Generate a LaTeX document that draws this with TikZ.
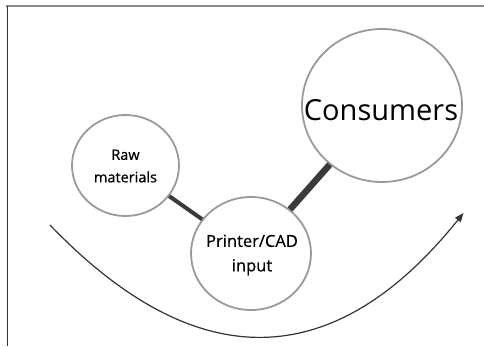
\documentclass[tikz,border=0pt]{standalone}
\usepackage{fontspec}
\setmainfont{Open Sans}
\newfontfamily\heavysans[FakeBold=0.6]{Open Sans}
\usetikzlibrary{shapes.geometric,arrows.meta}
\definecolor{ringgray}{HTML}{9A9A9A}
\definecolor{linkgray}{HTML}{3A3A3A}
\begin{document}
\begin{tikzpicture}[x=1pt,y=-1pt,
  bubble/.style={ellipse,draw=ringgray,line width=1.8pt,inner sep=0pt},
  caption/.style={align=center,text=black,inner sep=0pt},
  link/.style={draw=linkgray,line cap=butt},
  cycle/.style={draw=black!80,line width=1.2pt,-{Triangle[length=9pt,width=7pt]}}]
\useasboundingbox (0,0) rectangle (484,346);
\fill[white] (0,0) rectangle (484,346);
\draw[black!45,line width=1.4pt] (6,6) -- (484,6);
\draw[black!80,line width=1.4pt] (7.3,6) -- (7.3,346);
\node[bubble,minimum width=107pt,minimum height=101pt] (raw) at (125.5,165.5) {};
\node[bubble,minimum width=120pt,minimum height=113pt] (cad) at (251,253.5) {};
\node[bubble,minimum width=160pt,minimum height=153pt] (con) at (382,105.5) {};
\node[caption,font=\heavysans\fontsize{14.5}{22.5}\selectfont] (rawt) at (125.5,166) {Raw\\materials};
\node[caption,font=\heavysans\fontsize{16.5}{24.5}\selectfont] (cadt) at (252,255) {Printer/CAD\\input};
\node[caption,font=\fontsize{29}{34}\selectfont] (cont) at (381,110) {Consumers};
\path[link,line width=4pt] (raw) -- (cad);
\path[link,line width=6.5pt] (cad) -- (con);
\coordinate (cs) at (50,225);
\coordinate (c1) at (196.7,377.7);
\coordinate (c2) at (334.5,373.7);
\coordinate (ce) at (463.5,213);
\draw[cycle] (cs) .. controls (c1) and (c2) .. (ce);
\end{tikzpicture}
\end{document}
